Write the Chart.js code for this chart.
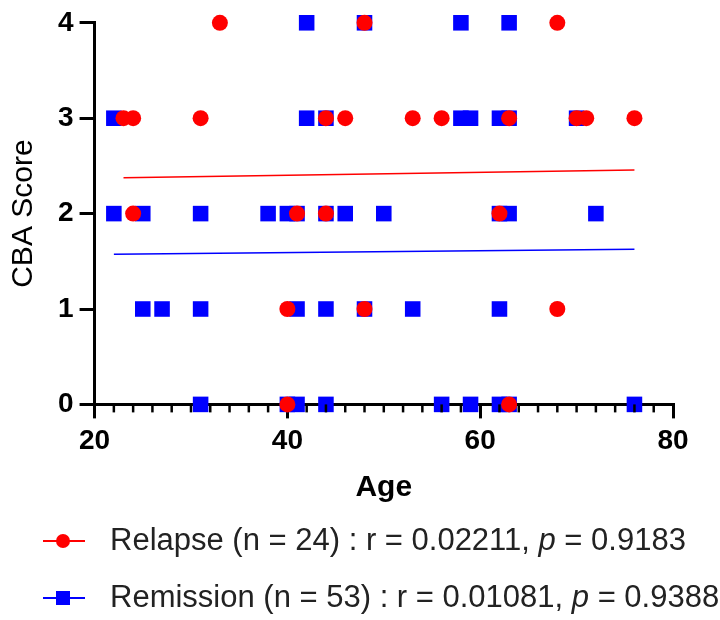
<!DOCTYPE html>
<html>
<head>
<meta charset="utf-8">
<script src="https://cdn.jsdelivr.net/npm/chart.js@4"></script>
<style>
  body { margin: 0; background: #fff; }
  #wrap { width: 720px; height: 620px; position: relative; }
</style>
</head>
<body>
<div id="wrap"><canvas id="chart"></canvas></div>
<script>
// values
const relapseAge   = [33, 48, 68,  23, 24, 31, 44, 46, 53, 56, 63, 70, 71, 76,  24, 41, 44, 62,  40, 48, 68,  40, 63];
const relapseScore = [4, 4, 4,  3, 3, 3, 3, 3, 3, 3, 3, 3, 3, 3,  2, 2, 2, 2,  1, 1, 1,  0, 0];

const remissionAge = [42, 48, 58, 63,
  22, 42, 44, 58, 59, 62, 63, 70,
  22, 25, 31, 38, 40, 41, 44, 46, 50, 62, 63, 72,
  25, 27, 31, 41, 44, 48, 53, 62,
  31, 40, 41, 44, 56, 59, 62, 63, 76];
const remissionScore = [4, 4, 4, 4,
  3, 3, 3, 3, 3, 3, 3, 3,
  2, 2, 2, 2, 2, 2, 2, 2, 2, 2, 2, 2,
  1, 1, 1, 1, 1, 1, 1, 1,
  0, 0, 0, 0, 0, 0, 0, 0, 0];

// linear fits
const relapseFitX = [23, 76];
const relapseFitY = [2.375, 2.458];
const remissionFitX = [22, 76];
const remissionFitY = [1.575, 1.627];

const xTicks = [20, 40, 60, 80];
const yTicks = [0, 1, 2, 3, 4];

const legendText = [
  ['Relapse (n = 24) : r = 0.02211, ', 'p', ' = 0.9183'],
  ['Remission (n = 53) : r = 0.01081, ', 'p', ' = 0.9388'],
];

const RED = '#ff0000';
const BLUE = '#0000ff';
const FONT = "'Liberation Sans', Arial, sans-serif";

const pts = (xs, ys) => xs.map((x, i) => ({ x, y: ys[i] }));

// minor ticks along the x axis, every 2 years
const minorTicks = {
  id: 'minorTicks',
  afterDraw(chart) {
    const { ctx, scales: { x }, chartArea } = chart;
    ctx.save();
    ctx.strokeStyle = '#000';
    ctx.lineWidth = 2.5;
    for (let v = 22; v < 80; v += 2) {
      if (v % 20 === 0) continue;
      const px = x.getPixelForValue(v);
      ctx.beginPath();
      ctx.moveTo(px, chartArea.bottom);
      ctx.lineTo(px, chartArea.bottom + 8);
      ctx.stroke();
    }
    ctx.restore();
  }
};

// legend under the axis, with italic p
const bottomLegend = {
  id: 'bottomLegend',
  afterDraw(chart) {
    const { ctx } = chart;
    const rows = [541, 598];
    const colors = [RED, BLUE];
    ctx.save();
    rows.forEach((y, i) => {
      ctx.strokeStyle = colors[i];
      ctx.fillStyle = colors[i];
      ctx.lineWidth = 2;
      ctx.beginPath();
      ctx.moveTo(43, y);
      ctx.lineTo(85, y);
      ctx.stroke();
      ctx.beginPath();
      if (i === 0) {
        ctx.arc(63, y, 7, 0, Math.PI * 2);
      } else {
        ctx.rect(56, y - 7, 14, 14);
      }
      ctx.fill();

      ctx.fillStyle = '#222';
      ctx.textBaseline = 'middle';
      let tx = 110;
      legendText[i].forEach((part, j) => {
        ctx.font = (j === 1 ? 'italic ' : '') + '31px ' + FONT;
        ctx.fillText(part, tx, y);
        tx += ctx.measureText(part).width;
      });
    });
    ctx.restore();
  }
};

new Chart(document.getElementById('chart'), {
  type: 'scatter',
  data: {
    datasets: [
      {
        label: 'Relapse',
        data: pts(relapseAge, relapseScore),
        pointStyle: 'circle',
        pointRadius: 8,
        backgroundColor: RED,
        borderWidth: 0,
        clip: false,
      },
      {
        label: 'Remission',
        data: pts(remissionAge, remissionScore),
        pointStyle: 'rect',
        pointRadius: 11,
        backgroundColor: BLUE,
        borderWidth: 0,
        clip: false,
      },
      {
        type: 'line',
        data: pts(relapseFitX, relapseFitY),
        borderColor: RED,
        borderWidth: 1.5,
        pointRadius: 0,
      },
      {
        type: 'line',
        data: pts(remissionFitX, remissionFitY),
        borderColor: BLUE,
        borderWidth: 1.5,
        pointRadius: 0,
      },
    ],
  },
  options: {
    responsive: true,
    maintainAspectRatio: false,
    animation: false,
    layout: { padding: { top: 0, right: 47, bottom: 114, left: 6 } },
    plugins: {
      legend: { display: false },
      tooltip: { enabled: false },
    },
    scales: {
      x: {
        type: 'linear',
        min: 20,
        max: 80,
        afterBuildTicks: (s) => { s.ticks = xTicks.map(v => ({ value: v })); },
        grid: { drawOnChartArea: false, tickLength: 14, color: '#000', lineWidth: 3 },
        border: { color: '#000', width: 3 },
        ticks: {
          color: '#000',
          padding: 6,
          maxRotation: 0,
          font: { family: FONT, size: 28, weight: 'bold' },
        },
        title: {
          display: true,
          text: 'Age',
          color: '#000',
          padding: { top: 6, bottom: 0 },
          font: { family: FONT, size: 30, weight: 'bold' },
        },
      },
      y: {
        min: 0,
        max: 4,
        afterBuildTicks: (s) => { s.ticks = yTicks.map(v => ({ value: v })); },
        grid: { drawOnChartArea: false, tickLength: 15, color: '#000', lineWidth: 3 },
        border: { color: '#000', width: 3 },
        ticks: {
          color: '#000',
          padding: 6,
          font: { family: FONT, size: 28, weight: 'bold' },
        },
        title: {
          display: true,
          text: 'CBA Score',
          color: '#000',
          padding: { top: 0, bottom: 10 },
          font: { family: FONT, size: 30 },
        },
      },
    },
  },
  plugins: [minorTicks, bottomLegend],
});
</script>
</body>
</html>
